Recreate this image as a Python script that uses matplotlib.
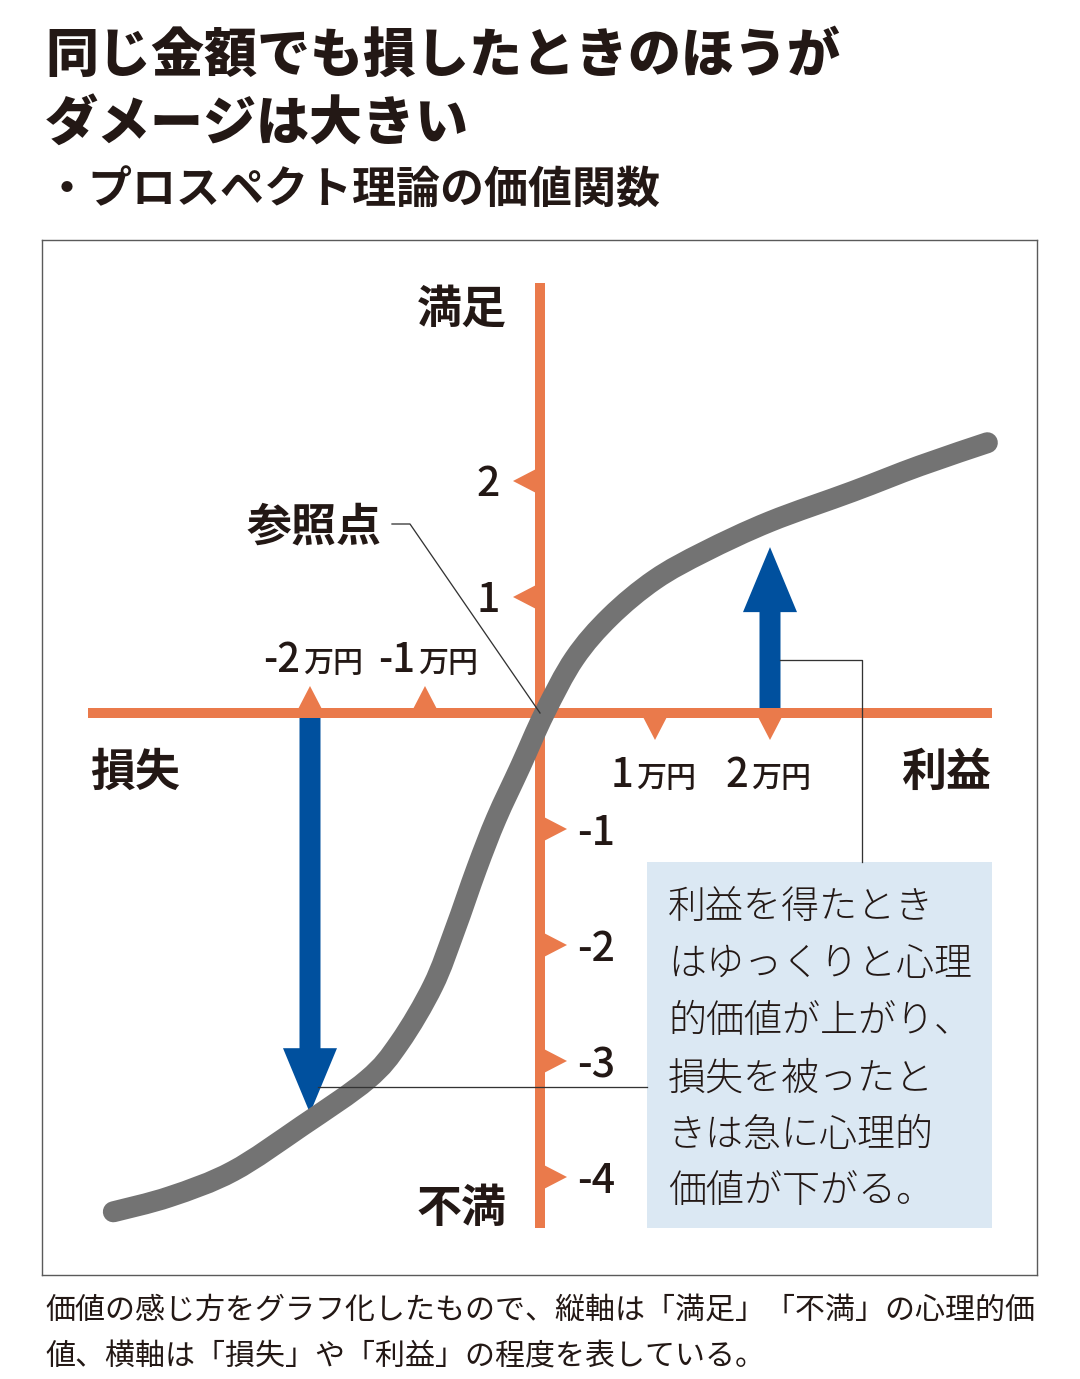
import matplotlib
matplotlib.use("Agg")
import matplotlib.pyplot as plt
from matplotlib.patches import Polygon, Rectangle, FancyArrow, PathPatch
from matplotlib.path import Path

plt.rcParams['font.family'] = ['Noto Sans CJK JP', 'DejaVu Sans']

# ---------------- data ----------------
title_lines = ["同じ金額でも損したときのほうが", "ダメージは大きい"]
subtitle = "・プロスペクト理論の価値関数"
caption_lines = ["価値の感じ方をグラフ化したもので、縦軸は「満足」「不満」の心理的価",
                 "値、横軸は「損失」や「利益」の程度を表している。"]
y_label_top = "満足"
y_label_bottom = "不満"
x_label_left = "損失"
x_label_right = "利益"
ref_label = "参照点"

x_ticks = [-2, -1, 1, 2]
x_tick_labels = ["-2", "-1", "1", "2"]
x_tick_unit = "万円"
y_ticks = [2, 1, -1, -2, -3, -4]
y_tick_labels = ["2", "1", "-1", "-2", "-3", "-4"]

# value function (x: 万円, y: psychological value)
curve_x = [-3.71, -3.22, -2.67, -2.07, -1.50, -1.22, -0.93, -0.74, -0.55, -0.38,
           -0.17, 0.04, 0.30, 0.61, 1.00, 1.43, 2.00, 2.72, 3.30, 3.89]
curve_y = [-4.30, -4.17, -3.95, -3.56, -3.16, -2.84, -2.35, -1.87, -1.34, -0.91,
           -0.46, 0.00, 0.47, 0.83, 1.15, 1.39, 1.65, 1.91, 2.13, 2.33]

arrow_x = [-2, 2]
arrow_tip_y = [-3.45, 1.43]

note_lines = ["利益を得たとき", "はゆっくりと心理", "的価値が上がり、",
              "損失を被ったと", "きは急に心理的", "価値が下がる。"]

# ---------------- styling ----------------
W, H, DPI = 1080, 1379, 100
ORANGE = "#EA7A4B"
BLUE = "#00509E"
GRAY = "#737373"
BOXC = "#DBE8F3"
TXT = "#231815"
LEAD = "#333333"

fig = plt.figure(figsize=(W / DPI, H / DPI), dpi=DPI)
fig.patch.set_facecolor("white")


def fx(px):
    return px / W


def fy(py):
    return 1 - py / H


def pt(px):
    return px * 72.0 / DPI


def ctext(x, yc, s, size, **kw):
    """text whose CJK glyph box is vertically centred at pixel yc"""
    return fig.text(fx(x), fy(yc + 0.38 * size), s, fontsize=pt(size),
                    va="baseline", color=kw.pop("color", TXT), **kw)


# chart axes occupying the framed box
FL, FT, FR, FB = 42, 240, 1037, 1275
X0, Y0, UX, UY = 540, 713, 115.0, 116.0
ax = fig.add_axes([fx(FL), fy(FB), (FR - FL) / W, (FB - FT) / H])
ax.set_xlim((FL - X0) / UX, (FR - X0) / UX)
ax.set_ylim((Y0 - FB) / UY, (Y0 - FT) / UY)
ax.set_xticks([])
ax.set_yticks([])
for s in ax.spines.values():
    s.set_color("#5a5a5a")
    s.set_linewidth(1.0)


def dx(px):
    return (px - X0) / UX


def dy(py):
    return (Y0 - py) / UY


# axis lines
ax.plot([dx(88), dx(992)], [0, 0], color=ORANGE, lw=pt(10), solid_capstyle="butt", zorder=3)
ax.plot([0, 0], [dy(1228), dy(283)], color=ORANGE, lw=pt(10), solid_capstyle="butt", zorder=3)

# triangular tick marks
TRI_H, TRI_B = 27, 14
for t in y_ticks:
    sgn = -1 if t > 0 else 1
    ax.add_patch(Polygon([(0, t + TRI_B / UY), (0, t - TRI_B / UY), (sgn * TRI_H / UX, t)],
                         closed=True, fc=ORANGE, ec="none", zorder=3))
for t in x_ticks:
    sgn = 1 if t < 0 else -1
    ax.add_patch(Polygon([(t - TRI_B / UX, 0), (t + TRI_B / UX, 0), (t, sgn * TRI_H / UY)],
                         closed=True, fc=ORANGE, ec="none", zorder=3))

# y tick labels
for t, lab in zip(y_ticks, y_tick_labels):
    if t > 0:
        ax.annotate(lab, xy=(0, t), xytext=(-40, -15), textcoords="offset pixels",
                    ha="right", va="baseline", fontsize=pt(41), color=TXT, weight="medium")
    else:
        ax.annotate(lab, xy=(0, t), xytext=(37, -16), textcoords="offset pixels",
                    ha="left", va="baseline", fontsize=pt(41), color=TXT, weight="medium")

# x tick labels (number + 万円)
for t, lab in zip(x_ticks, x_tick_labels):
    if t < 0:
        off_n, off_u, base = -10, -7, 41
    else:
        off_n, off_u, base = -22, -19, -74
    ax.annotate(lab, xy=(t, 0), xytext=(off_n, base), textcoords="offset pixels",
                ha="right", va="baseline", fontsize=pt(40), color=TXT, weight="medium")
    ax.annotate(x_tick_unit, xy=(t, 0), xytext=(off_u, base), textcoords="offset pixels",
                ha="left", va="baseline", fontsize=pt(30), color=TXT, weight="medium")

# blue arrows
for xa, ya in zip(arrow_x, arrow_tip_y):
    ax.add_patch(FancyArrow(xa, 0, 0, ya, width=21 / UX, head_width=54 / UX,
                            head_length=65 / UY, length_includes_head=True,
                            fc=BLUE, ec="none", zorder=2))

# value-function curve: smooth path through the read points (Catmull-Rom -> Bezier)
pts = list(zip(curve_x, curve_y))
verts = [pts[0]]
codes = [Path.MOVETO]
n = len(pts)
for i in range(n - 1):
    p0 = pts[i - 1] if i > 0 else pts[i]
    p1 = pts[i]
    p2 = pts[i + 1]
    p3 = pts[i + 2] if i + 2 < n else pts[i + 1]
    c1 = (p1[0] + (p2[0] - p0[0]) / 6.0, p1[1] + (p2[1] - p0[1]) / 6.0)
    c2 = (p2[0] - (p3[0] - p1[0]) / 6.0, p2[1] - (p3[1] - p1[1]) / 6.0)
    verts += [c1, c2, p2]
    codes += [Path.CURVE4] * 3
curve_patch = PathPatch(Path(verts, codes), fc="none", ec=GRAY, lw=pt(21),
                        capstyle="round", joinstyle="round", zorder=4)
ax.add_patch(curve_patch)

# note box
ax.add_patch(Rectangle((dx(647), dy(1228)), (992 - 647) / UX, (1228 - 862) / UY,
                       fc=BOXC, ec="none", zorder=5))

# leader lines
LW = pt(1.3)
ax.plot([dx(392), dx(410), 0], [dy(524), dy(524), 0], color=LEAD, lw=LW, zorder=6)
ax.plot([dx(780), dx(862), dx(862)], [dy(660), dy(660), dy(862)], color=LEAD, lw=LW, zorder=6)
ax.plot([dx(318), dx(647)], [dy(1087), dy(1087)], color=LEAD, lw=LW, zorder=6)

# axis titles and reference label
ctext(462, 306, y_label_top, 45, ha="center", weight="bold")
ctext(462, 1205, y_label_bottom, 45, ha="center", weight="bold")
ctext(135, 769, x_label_left, 45, ha="center", weight="bold")
ctext(946, 769, x_label_right, 45, ha="center", weight="bold")
ctext(314, 523, ref_label, 45, ha="center", weight="bold")

# note text
note_centers = [904, 961, 1018, 1075, 1132, 1188]
for line, yc in zip(note_lines, note_centers):
    ctext(668, yc, line, 38, ha="left", weight="light", zorder=7)

# title / subtitle / caption
ctext(45, 52, title_lines[0], 53, ha="left", weight="black")
ctext(45, 120, title_lines[1], 53, ha="left", weight="black")
ctext(45, 187, subtitle, 44, ha="left", weight="bold")
ctext(45, 1307, caption_lines[0], 30, ha="left")
ctext(45, 1354, caption_lines[1], 30, ha="left")

fig.savefig("out.png", dpi=DPI, facecolor="white")
